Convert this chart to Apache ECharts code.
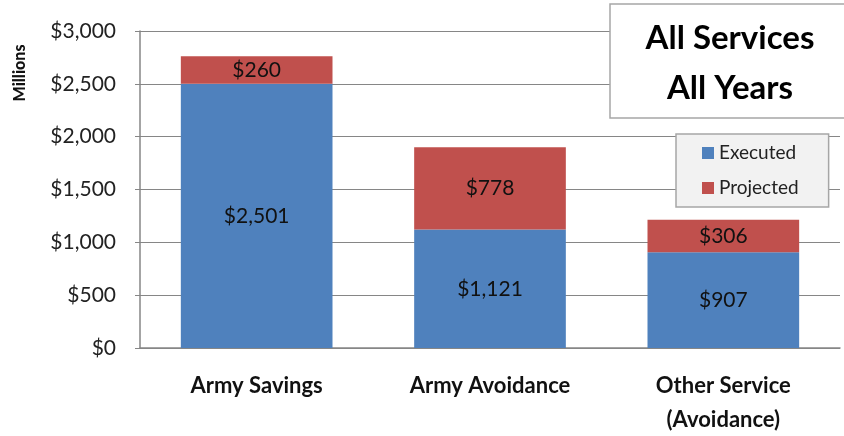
<!DOCTYPE html>
<html>
<head>
<meta charset="utf-8">
<script src="https://cdn.jsdelivr.net/npm/echarts@6/dist/echarts.min.js"></script>
<style>
html, body { margin: 0; padding: 0; background: #fff; }
#chart { width: 844px; height: 436px; }
</style>
</head>
<body>
<div id="chart"></div>
<script>
var categories = ['Army Savings', 'Army Avoidance', 'Other Service\n(Avoidance)'];
var executed = [2501, 1121, 907];
var projected = [260, 778, 306];
var seriesNames = ['Executed', 'Projected'];

var font = 'Lato, "Open Sans", sans-serif';

function money(v) {
	return '$' + v.toLocaleString('en-US');
}

var chart = echarts.init(document.getElementById('chart'));
var option = {
	animation: false,
	grid: { left: 140, right: 4, top: 31, bottom: 88, outerBoundsMode: 'none', containLabel: false },
	legend: {
		data: seriesNames,
		orient: 'vertical',
		left: 676,
		top: 134,
		padding: [9, 30, 9, 26],
		itemGap: 15,
		itemWidth: 12,
		itemHeight: 12,
		backgroundColor: '#f2f2f2',
		borderColor: '#a6a6a6',
		borderWidth: 1.5,
		icon: 'rect',
		textStyle: { fontFamily: font, fontSize: 19, color: '#222', lineHeight: 20 }
	},
	xAxis: {
		type: 'category',
		data: categories,
		axisLine: { lineStyle: { color: '#868686', width: 1.5 } },
		axisTick: { show: false },
		axisLabel: { fontFamily: font, fontSize: 22, fontWeight: 'bold', color: '#111', margin: 21, lineHeight: 34 }
	},
	yAxis: {
		type: 'value',
		min: 0,
		max: 3000,
		interval: 500,
		axisLine: { show: true, lineStyle: { color: '#868686', width: 1.5 } },
		axisTick: { show: true, length: 5, lineStyle: { color: '#868686' } },
		splitLine: { lineStyle: { color: '#868686', width: 1.2 } },
		axisLabel: { fontFamily: font, fontSize: 21, color: '#222', margin: 24, formatter: money }
	},
	series: [
		{
			name: seriesNames[0],
			type: 'bar',
			stack: 'total',
			data: executed,
			barWidth: '65%',
			itemStyle: { color: '#4f81bd' },
			label: { show: true, position: 'inside', fontFamily: font, fontSize: 21, color: '#111', formatter: function (p) { return money(p.value); } }
		},
		{
			name: seriesNames[1],
			type: 'bar',
			stack: 'total',
			data: projected,
			barWidth: '65%',
			itemStyle: { color: '#c0504d' },
			label: { show: true, position: 'inside', fontFamily: font, fontSize: 21, color: '#111', formatter: function (p) { return money(p.value); } }
		}
	],
	graphic: [
		{
			type: 'text',
			x: 20,
			y: 73,
			rotation: Math.PI / 2,
			style: { text: 'Millions', fontFamily: font, fontSize: 16, fontWeight: 900, fill: '#111', align: 'center', verticalAlign: 'middle' }
		},
		{
			type: 'rect',
			shape: { x: 610, y: 4, width: 240, height: 114 },
			style: { fill: '#fff', stroke: '#a6a6a6', lineWidth: 1.5 },
			z: 10
		},
		{
			type: 'text',
			x: 730,
			y: 63,
			style: { text: 'All Services\nAll Years', fontFamily: font, fontSize: 33, fontWeight: 'bold', fill: '#000', align: 'center', verticalAlign: 'middle', lineHeight: 50 },
			z: 11
		}
	]
};
chart.setOption(option);
</script>
</body>
</html>
